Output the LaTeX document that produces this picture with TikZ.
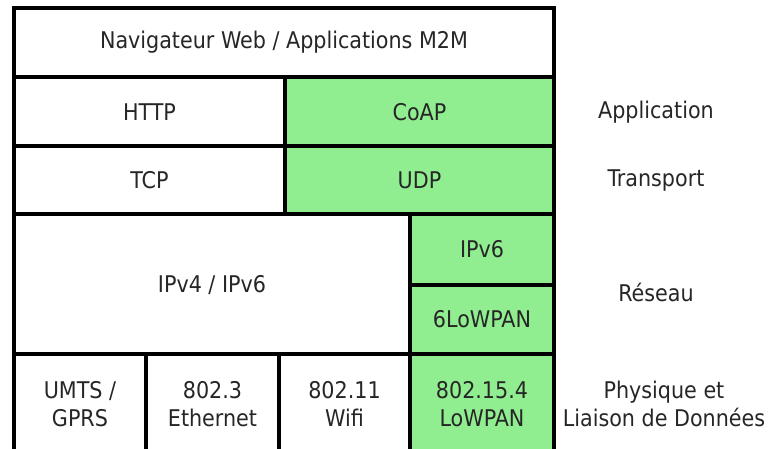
\documentclass[tikz,border=0pt]{standalone}
\usepackage{fontspec}
\setmainfont{DejaVu Sans Condensed}
\usetikzlibrary{positioning,calc}
\definecolor{stackGreen}{HTML}{90EE90}
\tikzset{
  cell/.style={draw=black, line width=3.2pt, fill=white},
  iotcell/.style={cell, fill=stackGreen},
  celltext/.style={font=\fontsize{23}{28}\selectfont, align=center, inner sep=0pt, text=black!85},
  layertext/.style={celltext}
}

\begin{document}
\begin{tikzpicture}[x=1pt, y=-1pt]
  \useasboundingbox (0,0) rectangle (769,449);
  \clip (0,0) rectangle (769,449);
  % cells
  \draw[cell] (14,8) rectangle (554,77);
  \draw[cell] (14,77) rectangle (285,146);
  \draw[iotcell] (285,77) rectangle (554,146);
  \draw[cell] (14,146) rectangle (285,214);
  \draw[iotcell] (285,146) rectangle (554,214);
  \draw[cell] (14,214) rectangle (410,354);
  \draw[iotcell] (410,214) rectangle (554,285);
  \draw[iotcell] (410,285) rectangle (554,354);
  \draw[cell] (14,354) rectangle (146,470);
  \draw[cell] (146,354) rectangle (279,470);
  \draw[cell] (279,354) rectangle (410,470);
  \draw[iotcell] (410,354) rectangle (554,470);
  % labels
  \node[celltext] (nav) at (284,42.5) {Navigateur Web / Applications M2M};
  \node[celltext] (http) at (149.5,112) {HTTP};
  \node[celltext] (coap) at (419.5,112) {CoAP};
  \node[celltext] (tcp) at (149.5,180) {TCP};
  \node[celltext] (udp) at (419.5,180) {UDP};
  \node[celltext] (ip) at (212,285) {IPv4 / IPv6};
  \node[celltext] (ipsix) at (482,249.5) {IPv6};
  \node[celltext] (sixlo) at (482,319.5) {6LoWPAN};
  \node[celltext] (umts) at (80,404) {UMTS /\\GPRS};
  \node[celltext] (eth) at (212.5,404) {802.3\\Ethernet};
  \node[celltext] (wifi) at (344.5,404) {802.11\\Wifi};
  \node[celltext] (lowpan) at (482,404) {802.15.4\\LoWPAN};
  % layers
  \node[layertext] (app) at (656,112) {Application};
  \node[layertext] (trans) at (656,181) {Transport};
  \node[layertext] (net) at (656,292) {Réseau};
  \node[layertext] (phy) at (664,404) {Physique et\\Liaison de Données};
\end{tikzpicture}
\end{document}
